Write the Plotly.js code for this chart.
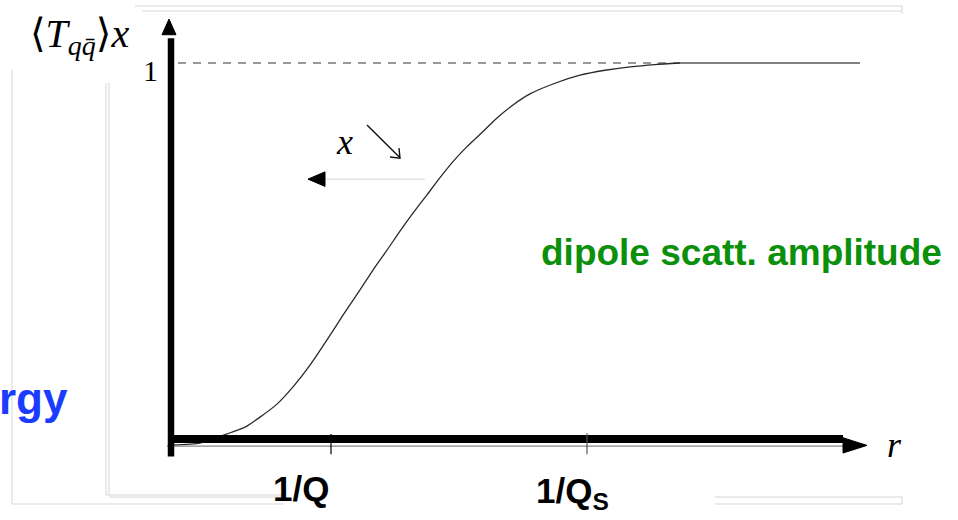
<!DOCTYPE html>
<html>
<head>
<meta charset="utf-8">
<script src="https://cdn.plot.ly/plotly-3.0.1.min.js"></script>
<style>html,body{margin:0;padding:0;background:#fff;}#chart{width:958px;height:520px;}</style>
</head>
<body>
<div id="chart"></div>
<script>
// dipole scattering amplitude <T_qq̄>_x versus dipole size r (schematic units)
var rCurve = [0.00, 0.28, 0.55, 0.73, 0.88, 1.05, 1.21, 1.38, 1.55, 1.71, 1.88, 2.01, 2.15, 2.28, 2.41, 2.55, 2.68, 2.81, 2.95, 3.10, 3.25, 3.41, 3.58, 3.83, 4.08, 4.33, 4.58, 4.83, 5.08];
var tCurve = [0.000, 0.005, 0.029, 0.047, 0.073, 0.107, 0.152, 0.209, 0.275, 0.340, 0.406, 0.458, 0.510, 0.560, 0.607, 0.655, 0.700, 0.742, 0.781, 0.818, 0.856, 0.890, 0.919, 0.947, 0.968, 0.981, 0.990, 0.996, 1.000];
var rSat = [5.08, 6.88];
var tSat = [1, 1];
var rRef = [0.06, 5.08];
var tRef = [1, 1];
var tickR = [1.59, 4.15];
var tickLabels = ["<b>1/Q</b>", "<b>1/Q<sub>S</sub></b>"];
var yTickValue = 1;
var yTickLabel = "1";
var curveLabel = "<b>dipole scatt. amplitude</b>";
var sideLabel = "<b>rgy</b>";

var traces = [
  {x: rRef, y: tRef, mode: "lines", line: {color: "#777", width: 1.5, dash: "8px,7px"}, hoverinfo: "skip"},
  {x: rSat, y: tSat, mode: "lines", line: {color: "#808080", width: 2.2}, hoverinfo: "skip"},
  {x: rCurve, y: tCurve, mode: "lines", line: {color: "#2a2a2a", width: 1.3, shape: "spline", smoothing: 0.6}, hoverinfo: "skip"}
];

var lightGray = {color: "#d6d6d6", width: 1};
function pline(x0, y0, x1, y1) {
  return {type: "line", xref: "paper", yref: "paper", x0: x0 / 958, x1: x1 / 958, y0: 1 - y0 / 520, y1: 1 - y1 / 520, line: lightGray, layer: "below"};
}

var shapes = [
  // slide frame remnants
  pline(12, 70, 12, 504), pline(12, 504, 283, 504),
  pline(106, 83, 106, 495), pline(109, 83, 109, 495), pline(106, 495, 283, 495), pline(109, 497, 283, 497),
  pline(135, 6, 902, 6), pline(142, 11, 902, 11), pline(902, 6, 902, 14),
  pline(715, 497, 902, 497), pline(715, 504, 902, 504), pline(902, 497, 902, 504),
  // thin original r-axis
  {type: "line", xref: "x", yref: "y", x0: -0.05, x1: 6.75, y0: -0.003, y1: -0.003, line: {color: "#888", width: 1.2}},
  // thick axes
  {type: "line", xref: "x", yref: "y", x0: -0.01, x1: -0.01, y0: -0.03, y1: 1.065, line: {color: "#000", width: 6.5}},
  {type: "line", xref: "x", yref: "y", x0: -0.04, x1: 6.71, y0: 0.016, y1: 0.016, line: {color: "#000", width: 8}},
  // arrowheads
  {type: "path", xref: "x", yref: "y", path: "M -0.10 1.074 L 0.04 1.074 L -0.03 1.115 Z", fillcolor: "#000", line: {color: "#000", width: 1}},
  {type: "path", xref: "x", yref: "y", path: "M 6.71 0.019 L 6.71 -0.021 L 6.95 -0.001 Z", fillcolor: "#000", line: {color: "#000", width: 1}},
  // ticks
  {type: "line", xref: "x", yref: "y", x0: tickR[0], x1: tickR[0], y0: 0.029, y1: -0.024, line: {color: "#000", width: 1.2}},
  {type: "line", xref: "x", yref: "y", x0: tickR[1], x1: tickR[1], y0: 0.031, y1: -0.024, line: {color: "#555", width: 1.2}},
  // evolution arrow (toward smaller r)
  {type: "line", xref: "x", yref: "y", x0: 2.53, x1: 1.52, y0: 0.696, y1: 0.696, line: {color: "#d8d8d8", width: 1}},
  {type: "path", xref: "x", yref: "y", path: "M 1.53 0.715 L 1.53 0.677 L 1.36 0.696 Z", fillcolor: "#000", line: {color: "#000", width: 1}},
  // x-direction arrow
  {type: "line", xref: "x", yref: "y", x0: 1.95, y0: 0.838, x1: 2.275, y1: 0.753, line: {color: "#111", width: 1.4}},
  {type: "path", xref: "x", yref: "y", path: "M 2.18 0.754 L 2.28 0.751 L 2.27 0.777", line: {color: "#111", width: 1.4}}
];

var annotations = [
  {xref: "paper", yref: "paper", x: 79 / 958, y: 1 - 36 / 520, xanchor: "center", yanchor: "middle", showarrow: false,
   text: "⟨<i>T</i><sub><i>q</i><i>q̄</i></sub>⟩<i>x</i>", font: {family: "Liberation Serif, DejaVu Serif, serif", size: 40, color: "#000"}},
  {xref: "x", yref: "y", x: -0.22, y: yTickValue - 0.02, xanchor: "center", yanchor: "middle", showarrow: false,
   text: yTickLabel, font: {family: "Liberation Serif, serif", size: 30, color: "#000"}},
  {xref: "x", yref: "y", x: tickR[0] - 0.30, y: -0.113, xanchor: "center", yanchor: "middle", showarrow: false,
   text: tickLabels[0], font: {family: "Liberation Sans, Arial, sans-serif", size: 35, color: "#000"}},
  {xref: "x", yref: "y", x: tickR[1] - 0.15, y: -0.125, xanchor: "center", yanchor: "middle", showarrow: false,
   text: tickLabels[1], font: {family: "Liberation Sans, Arial, sans-serif", size: 35, color: "#000"}},
  {xref: "x", yref: "y", x: 7.22, y: 0.0, xanchor: "center", yanchor: "middle", showarrow: false,
   text: "<i>r</i>", font: {family: "Liberation Serif, serif", size: 36, color: "#000"}},
  {xref: "x", yref: "y", x: 1.72, y: 0.794, xanchor: "center", yanchor: "middle", showarrow: false,
   text: "<i>x</i>", font: {family: "Liberation Serif, serif", size: 36, color: "#000"}},
  {xref: "x", yref: "y", x: 5.69, y: 0.505, xanchor: "center", yanchor: "middle", showarrow: false,
   text: curveLabel, font: {family: "Liberation Sans, Arial, sans-serif", size: 37, color: "#0b900b"}},
  {xref: "paper", yref: "paper", x: 70 / 958, y: 1 - 398 / 520, xanchor: "right", yanchor: "middle", showarrow: false,
   text: sideLabel, font: {family: "Liberation Sans, Arial, sans-serif", size: 44, color: "#1a3cff"}}
];

var layout = {
  width: 958, height: 520,
  margin: {l: 0, r: 0, t: 0, b: 0, pad: 0},
  paper_bgcolor: "#fff", plot_bgcolor: "#fff",
  showlegend: false,
  xaxis: {range: [-1.72, 7.86], visible: false, fixedrange: true},
  yaxis: {range: [-75 / 382, 445 / 382], visible: false, fixedrange: true},
  shapes: shapes,
  annotations: annotations
};

Plotly.newPlot("chart", traces, layout, {staticPlot: true, displayModeBar: false});
</script>
</body>
</html>
